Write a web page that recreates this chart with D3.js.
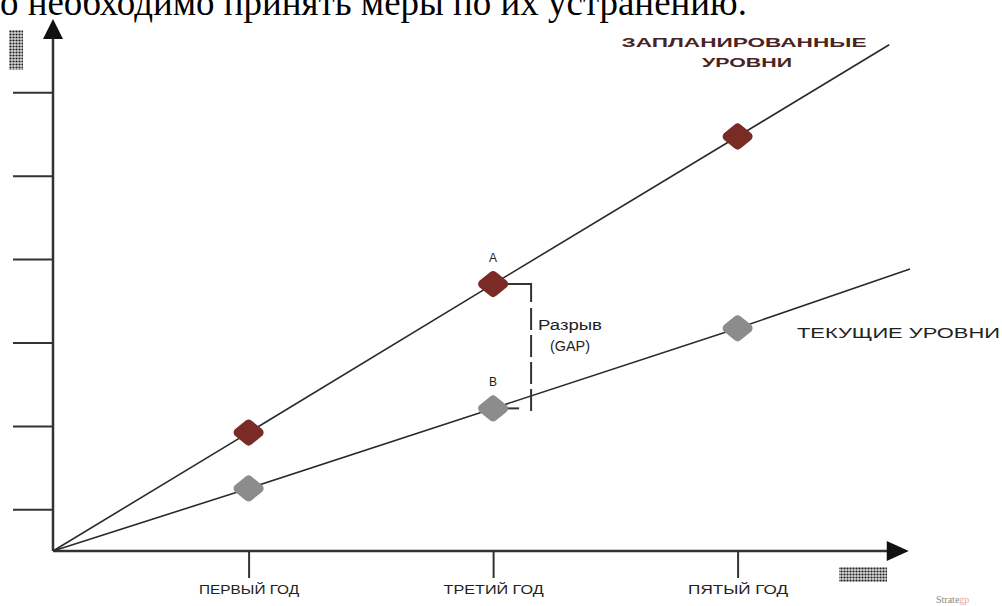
<!DOCTYPE html>
<html>
<head>
<meta charset="utf-8">
<script src="https://cdn.jsdelivr.net/npm/d3@7/dist/d3.min.js"></script>
<style>
  html, body { margin: 0; padding: 0; background: #fff; }
  svg { display: block; }
</style>
</head>
<body>
<svg id="chart" width="1002" height="606"></svg>
<script>
// Categories along the horizontal axis (year positions)
const categories = ["ПЕРВЫЙ ГОД", "ТРЕТИЙ ГОД", "ПЯТЫЙ ГОД"];
const years = [1, 3, 5];

// Planned and current levels at each year
const planned = [1.42, 3.2, 4.97];
const current = [0.75, 1.71, 2.67];

// Both lines start at the origin and run past the last year
const origin = { x: -0.6, y: 0 };
const plannedEnd = { x: 6.24, y: 6.07 };
const currentEnd = { x: 6.41, y: 3.38 };

// Unlabelled ticks on the vertical axis
const yTicks = [0.5, 1.5, 2.5, 3.5, 4.5, 5.5];

// Axis extents (arrow tips)
const xAxisEnd = 6.4;
const yAxisEnd = 6.38;

const svg = d3.select("#chart");

const x = d3.scaleLinear().domain([-0.6, 6.6]).range([53, 53 + 7.2 * 122.25]);
const y = d3.scaleLinear().domain([0, 6.5]).range([551, 551 - 6.5 * 83.4]);

// Pattern used for the placeholder axis captions
const defs = svg.append("defs");
const pat = defs.append("pattern").attr("id", "dots")
  .attr("width", 3).attr("height", 3).attr("patternUnits", "userSpaceOnUse");
pat.append("rect").attr("width", 3).attr("height", 3).attr("fill", "#d8d8d8");
pat.append("circle").attr("cx", 1.5).attr("cy", 1.5).attr("r", 1.1).attr("fill", "#222");

// Text line above the figure
const topText = svg.append("text")
  .attr("x", 0).attr("y", 15)
  .attr("font-family", "'Liberation Serif', 'Times New Roman', serif")
  .attr("font-size", 30)
  .attr("fill", "#000")
  .text("о необходимо принять меры по их устранению.");
const tw = topText.node().getComputedTextLength();
topText.attr("font-size", 30 * 747 / tw);

// Vertical axis ticks (no labels)
const yAxis = d3.axisLeft(y).tickValues(yTicks).tickSize(40).tickFormat("");
const gy = svg.append("g").attr("transform", `translate(${x(-0.6)},0)`).call(yAxis);
gy.select(".domain").remove();
gy.selectAll(".tick line").attr("stroke", "#333").attr("stroke-width", 2);

// Horizontal axis ticks with category labels
const xAxis = d3.axisBottom(x).tickValues(years).tickSize(27)
  .tickFormat((d, i) => categories[i]);
const gx = svg.append("g").attr("transform", `translate(0,${y(0)})`).call(xAxis);
gx.select(".domain").remove();
gx.selectAll(".tick line").attr("stroke", "#333").attr("stroke-width", 2);
gx.selectAll(".tick text")
  .attr("y", 0).attr("dy", 0)
  .attr("transform", "translate(0,43)")
  .attr("font-family", "'Liberation Sans', Arial, sans-serif")
  .attr("font-size", 12)
  .attr("fill", "#222")
  .attr("textLength", 100)
  .attr("lengthAdjust", "spacingAndGlyphs");

// Axis lines with arrowheads
const axisColor = "#333";
svg.append("line")
  .attr("x1", x(-0.6)).attr("y1", y(0))
  .attr("x2", x(-0.6)).attr("y2", y(yAxisEnd) + 16)
  .attr("stroke", axisColor).attr("stroke-width", 2.5);
svg.append("path")
  .attr("d", `M${x(-0.6)},${y(yAxisEnd)} L${x(-0.6) - 10},${y(yAxisEnd) + 20} L${x(-0.6) + 10},${y(yAxisEnd) + 20} Z`)
  .attr("fill", "#111");
svg.append("line")
  .attr("x1", x(-0.6)).attr("y1", y(0))
  .attr("x2", x(xAxisEnd) - 16).attr("y2", y(0))
  .attr("stroke", axisColor).attr("stroke-width", 2.5);
svg.append("path")
  .attr("d", `M${x(xAxisEnd)},${y(0)} L${x(xAxisEnd) - 22},${y(0) - 10} L${x(xAxisEnd) - 22},${y(0) + 10} Z`)
  .attr("fill", "#111");

// Placeholder captions for the axes
svg.append("rect").attr("x", 9).attr("y", 30).attr("width", 14).attr("height", 40)
  .attr("fill", "url(#dots)");
svg.append("rect").attr("x", 839).attr("y", 567).attr("width", 48).attr("height", 15)
  .attr("fill", "url(#dots)");

// Series lines: origin -> yearly points -> extension
const line = d3.line().x(d => x(d.x)).y(d => y(d.y));
const plannedPts = [origin, ...years.map((yr, i) => ({ x: yr, y: planned[i] })), plannedEnd];
const currentPts = [origin, ...years.map((yr, i) => ({ x: yr, y: current[i] })), currentEnd];

svg.append("path").attr("d", line(plannedPts))
  .attr("fill", "none").attr("stroke", "#2a2a2a").attr("stroke-width", 1.6);
svg.append("path").attr("d", line(currentPts))
  .attr("fill", "none").attr("stroke", "#2a2a2a").attr("stroke-width", 1.6);

// Gap bracket between planned and current level in the third year
const gapX = x(3) + 38;
svg.append("path")
  .attr("d", `M${x(3)},${y(planned[1])} H${gapX} V${y(planned[1]) + 18}`)
  .attr("fill", "none").attr("stroke", "#333").attr("stroke-width", 2);
svg.append("line")
  .attr("x1", gapX).attr("y1", y(planned[1]) + 24)
  .attr("x2", gapX).attr("y2", y(current[1]) + 3)
  .attr("stroke", "#333").attr("stroke-width", 2)
  .attr("stroke-dasharray", "22,5");
svg.append("line")
  .attr("x1", x(3)).attr("y1", y(current[1]))
  .attr("x2", x(3) + 26).attr("y2", y(current[1]))
  .attr("stroke", "#333").attr("stroke-width", 2);

// Rounded diamond markers
function diamond(g, cx, cy, color) {
  g.append("path")
    .attr("d", `M${cx},${cy - 8.5} L${cx + 10.5},${cy} L${cx},${cy + 8.5} L${cx - 10.5},${cy} Z`)
    .attr("fill", color).attr("stroke", color)
    .attr("stroke-width", 9).attr("stroke-linejoin", "round");
}
const gm = svg.append("g");
years.forEach((yr, i) => diamond(gm, x(yr), y(planned[i]), "#7a2b25"));
years.forEach((yr, i) => diamond(gm, x(yr), y(current[i]), "#8c8c8c"));

// Point letters
const sans = "'Liberation Sans', Arial, sans-serif";
svg.append("text").attr("x", x(3)).attr("y", y(planned[1]) - 22)
  .attr("text-anchor", "middle").attr("font-family", sans).attr("font-size", 12)
  .attr("fill", "#222").text("A");
svg.append("text").attr("x", x(3)).attr("y", y(current[1]) - 22)
  .attr("text-anchor", "middle").attr("font-family", sans).attr("font-size", 12)
  .attr("fill", "#222").text("B");

// Gap caption
svg.append("text").attr("x", 570).attr("y", 330)
  .attr("text-anchor", "middle").attr("font-family", sans).attr("font-size", 14)
  .attr("fill", "#222").attr("textLength", 64).attr("lengthAdjust", "spacingAndGlyphs")
  .text("Разрыв");
svg.append("text").attr("x", 570).attr("y", 351)
  .attr("text-anchor", "middle").attr("font-family", sans).attr("font-size", 14)
  .attr("fill", "#222").attr("textLength", 40).attr("lengthAdjust", "spacingAndGlyphs")
  .text("(GAP)");

// Series captions
svg.append("text").attr("x", 744).attr("y", 47)
  .attr("text-anchor", "middle").attr("font-family", sans).attr("font-size", 13)
  .attr("font-weight", "bold").attr("fill", "#4a2424")
  .attr("textLength", 245).attr("lengthAdjust", "spacingAndGlyphs")
  .text("ЗАПЛАНИРОВАННЫЕ");
svg.append("text").attr("x", 747).attr("y", 67)
  .attr("text-anchor", "middle").attr("font-family", sans).attr("font-size", 13)
  .attr("font-weight", "bold").attr("fill", "#4a2424")
  .attr("textLength", 90).attr("lengthAdjust", "spacingAndGlyphs")
  .text("УРОВНИ");
svg.append("text").attr("x", 797).attr("y", 338)
  .attr("font-family", sans).attr("font-size", 14)
  .attr("fill", "#222")
  .attr("textLength", 203).attr("lengthAdjust", "spacingAndGlyphs")
  .text("ТЕКУЩИЕ УРОВНИ");

// Source mark
const src = svg.append("text").attr("x", 936).attr("y", 603)
  .attr("font-family", "'Liberation Serif', serif").attr("font-size", 10);
src.append("tspan").attr("fill", "#888").text("Strate");
src.append("tspan").attr("fill", "#e8a8a8").text("gp");
</script>
</body>
</html>
